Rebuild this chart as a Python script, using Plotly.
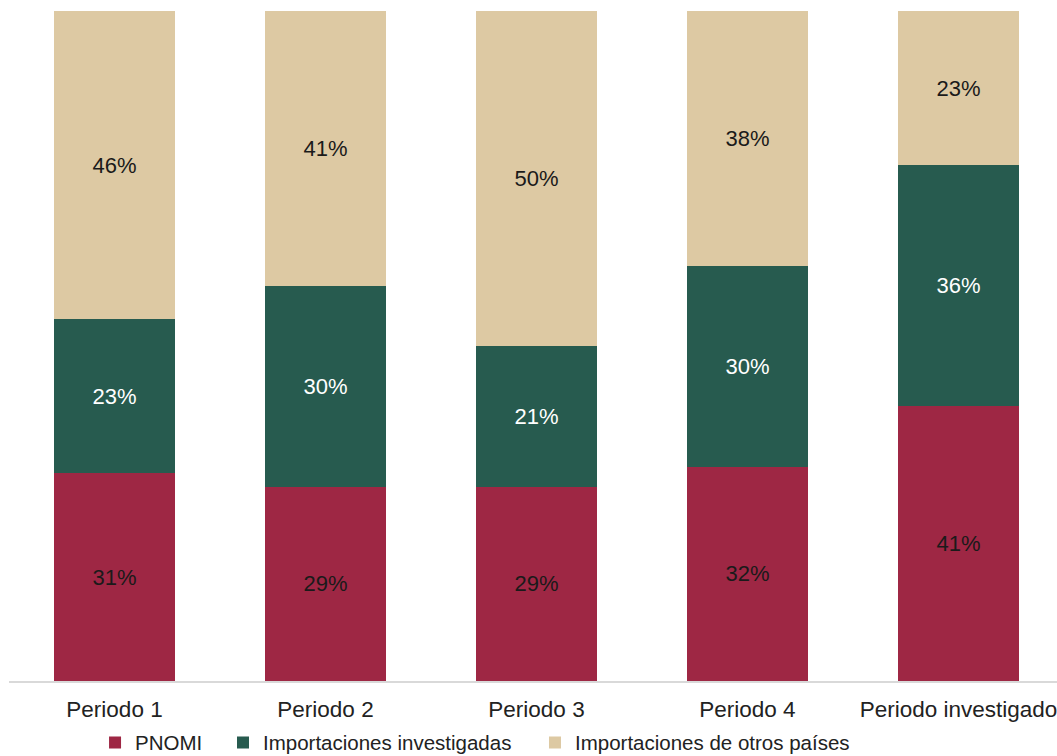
import plotly.graph_objects as go

categories = ["Periodo 1", "Periodo 2", "Periodo 3", "Periodo 4", "Periodo investigado"]
pnomi = [31, 29, 29, 32, 41]
imp_investigadas = [23, 30, 21, 30, 36]
imp_otros = [46, 41, 50, 38, 23]

series = [
    ("PNOMI", pnomi, "#9E2744", "#1a1a1a", "legend", 0.0821),
    ("Importaciones investigadas", imp_investigadas, "#275B4F", "#ffffff", "legend2", 0.2042),
    ("Importaciones de otros países", imp_otros, "#DDC9A3", "#1a1a1a", "legend3", 0.5019),
]

fig = go.Figure()
legends = {}
for name, vals, color, tcolor, leg, lx in series:
    fig.add_trace(go.Bar(
        x=categories, y=vals, name=name, legend=leg,
        marker=dict(color=color, line=dict(width=0)),
        text=[f"{v}%" for v in vals],
        textposition="inside", insidetextanchor="middle", textangle=0,
        constraintext="none",
        textfont=dict(family="Liberation Sans, Arial, sans-serif", size=22, color=tcolor),
        hoverinfo="skip",
    ))
    legends[leg] = dict(
        orientation="h", x=lx, xanchor="left", y=-0.092, yanchor="middle",
        font=dict(size=20.5, color="#222222"), bgcolor="rgba(0,0,0,0)",
        itemwidth=30,
    )

fig.update_layout(
    barmode="stack",
    bargap=0.43,
    width=1057, height=756,
    margin=dict(l=9, r=0, t=11, b=75, autoexpand=False),
    plot_bgcolor="white", paper_bgcolor="white",
    font=dict(family="Liberation Sans, Arial, sans-serif", size=22, color="#222222"),
    showlegend=True,
    xaxis=dict(
        type="category", range=[-0.5, 4.467],
        showline=True, linecolor="#d9d9d9", linewidth=2,
        ticks="", showgrid=False, tickfont=dict(size=22.5, color="#222222"),
        ticklabelstandoff=7,
    ),
    yaxis=dict(range=[0, 100], visible=False, showgrid=False),
    **legends,
)

fig.write_html(
    "out.html",
    config={"displayModeBar": False},
    post_script="document.body.style.margin='0';document.body.style.overflow='hidden';",
)
